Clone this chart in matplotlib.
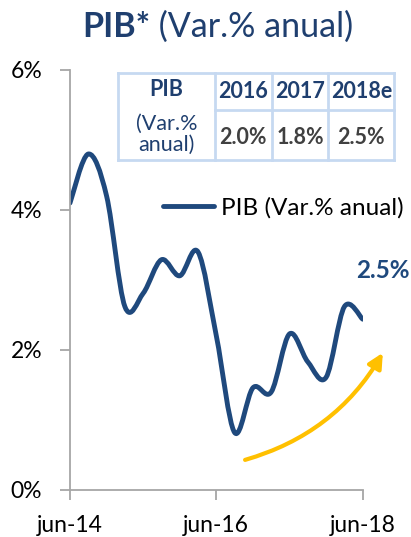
import numpy as np
import matplotlib
matplotlib.use("Agg")
import matplotlib.pyplot as plt
from matplotlib.path import Path
from matplotlib.patches import PathPatch
from matplotlib.lines import Line2D

### Data
quarters = ["jun-14", "sep-14", "dic-14", "mar-15", "jun-15", "sep-15", "dic-15",
            "mar-16", "jun-16", "sep-16", "dic-16", "mar-17", "jun-17", "sep-17",
            "dic-17", "mar-18", "jun-18"]
pib = [4.1, 4.8, 4.2, 2.62, 2.81, 3.29, 3.06, 3.40, 2.2, 0.82, 1.46, 1.40,
       2.23, 1.83, 1.61, 2.62, 2.44]
tick_labels = ["jun-14", "jun-16", "jun-18"]
y_ticks = [0, 2, 4, 6]

table_years = ["2016", "2017", "2018e"]
table_values = ["2.0%", "1.8%", "2.5%"]
last_label = "2.5%"

### Styles
BLUE = "#1F497D"
DARK = "#1F3F6F"
GOLD = "#FFC000"
GRAY = "#A6A6A6"
GRID_BLUE = "#C6D9F1"
TXT_GRAY = "#404040"

plt.rcParams["font.family"] = ["Lato", "DejaVu Sans"]

W, H = 411, 537
fig = plt.figure(figsize=(W / 100, H / 100), dpi=100)

def fx(px):
    return px / W

def fy(py):
    return 1 - py / H

ax = fig.add_axes([fx(70), fy(490), fx(362.7) - fx(70), fy(70) - fy(490)])

# smooth line (Excel style bezier through the quarterly points)
x = np.arange(len(pib), dtype=float)
y = np.array(pib)
pts = np.column_stack([x, y])
ext = np.vstack([pts[0], pts, pts[-1]])
verts = [tuple(pts[0])]
codes = [Path.MOVETO]
for i in range(len(pts) - 1):
    p0, p1, p2, p3 = ext[i], ext[i + 1], ext[i + 2], ext[i + 3]
    c1 = p1 + (p2 - p0) / 6
    c2 = p2 - (p3 - p1) / 6
    verts += [tuple(c1), tuple(c2), tuple(p2)]
    codes += [Path.CURVE4] * 3
ax.add_patch(PathPatch(Path(verts, codes), facecolor="none", edgecolor=BLUE,
                       lw=3.5, capstyle="round", joinstyle="round"))

ax.set_xlim(0, len(pib) - 1)
ax.set_ylim(0, 6)
ax.set_xticks([quarters.index(t) for t in tick_labels])
ax.set_xticklabels(tick_labels)
ax.set_yticks(y_ticks)
ax.set_yticklabels([f"{v}%" for v in y_ticks])

for s in ["top", "right"]:
    ax.spines[s].set_visible(False)
for s in ["left", "bottom"]:
    ax.spines[s].set_color(GRAY)
    ax.spines[s].set_linewidth(1.3)
ax.tick_params(axis="both", colors=GRAY, width=1.3, length=7, labelsize=16.5,
               labelcolor="black")
ax.tick_params(axis="y", pad=13)
ax.tick_params(axis="x", pad=11)

# legend
proxy = Line2D([], [], color=BLUE, lw=3.5, solid_capstyle="round")
fig.legend([proxy], ["PIB (Var.% anual)"], loc="center left",
           bbox_to_anchor=(fx(163), fy(208)), frameon=False, fontsize=17.5,
           handlelength=2.1, handletextpad=0.28, borderpad=0, borderaxespad=0)

# yellow arrow
ax.annotate("", xy=(17.1, 1.96), xytext=(9.57, 0.43),
            arrowprops=dict(arrowstyle="-|>", color=GOLD, lw=3,
                            connectionstyle="arc3,rad=0.2", mutation_scale=22,
                            shrinkA=0, shrinkB=0),
            annotation_clip=False)

ax.text(17.1, 3.14, last_label, color=BLUE, fontsize=17.5, fontweight="bold",
        ha="center", va="center", clip_on=False)

# title
t1 = fig.text(fx(82), fy(37), "PIB*", color=DARK, fontsize=24.5,
              fontweight="bold", ha="left", va="baseline")
ax.annotate(" (Var.% anual)", xy=(1, 0), xycoords=t1, color=DARK, fontsize=24.5,
            ha="left", va="bottom", annotation_clip=False)

# small table
col_x = [117.7, 215, 271.7, 328.3, 394.3]
row_y = [73.3, 110, 160]
for cx in col_x:
    fig.add_artist(Line2D([fx(cx)] * 2, [fy(row_y[0]), fy(row_y[-1])],
                          color=GRID_BLUE, lw=2))
fig.add_artist(Line2D([fx(col_x[0]), fx(col_x[-1])], [fy(row_y[0])] * 2,
                      color=GRID_BLUE, lw=2))
fig.add_artist(Line2D([fx(col_x[1]), fx(col_x[-1])], [fy(row_y[1])] * 2,
                      color=GRID_BLUE, lw=2))
fig.add_artist(Line2D([fx(col_x[0]), fx(col_x[-1])], [fy(row_y[2])] * 2,
                      color=GRID_BLUE, lw=2))

first_cx = (col_x[0] + col_x[1]) / 2
fig.text(fx(first_cx), fy(90), "PIB", color=DARK, fontsize=15.5,
         fontweight="bold", ha="center", va="center")
fig.text(fx(first_cx), fy(134), "(Var.%\nanual)", color=DARK, fontsize=15.5,
         ha="center", va="center", linespacing=1.05)
for i in range(len(table_years)):
    cx = (col_x[i + 1] + col_x[i + 2]) / 2
    fig.text(fx(cx), fy(92), table_years[i], color=DARK, fontsize=15.5,
             fontweight="bold", ha="center", va="center")
    fig.text(fx(cx), fy(137), table_values[i], color=TXT_GRAY, fontsize=15.5,
             fontweight="bold", ha="center", va="center")

fig.savefig("out.png", dpi=100)
